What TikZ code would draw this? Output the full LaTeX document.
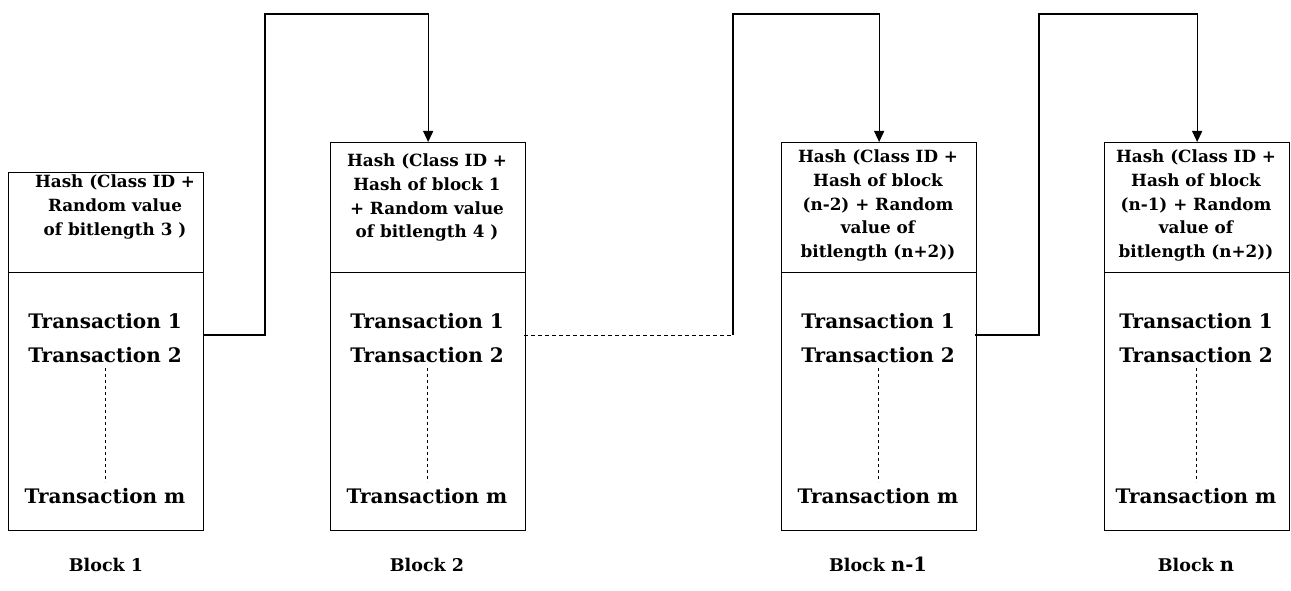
\documentclass[tikz,border=0pt]{standalone}
\usepackage{fontspec}
\setmainfont{DejaVu Serif}
\usetikzlibrary{arrows.meta}
\begin{document}
\begin{tikzpicture}[x=1pt,y=-1pt,
  box/.style={draw, line width=1.3pt, inner sep=0pt, anchor=north west},
  hashtxt/.style={align=center, anchor=north, inner sep=0pt,
    font=\fontsize{16.8}{23.6}\selectfont\bfseries},
  txn/.style={anchor=base, inner sep=0pt, font=\fontsize{20}{22}\selectfont\bfseries},
  lbl/.style={anchor=base, inner sep=0pt, font=\fontsize{17.5}{20}\selectfont\bfseries},
  link/.style={line width=1.3pt},
  tip/.style={-{Triangle[length=11pt,width=10pt]}},
  gap/.style={line width=0.9pt, dash pattern=on 4pt off 3pt},
  elide/.style={line width=0.8pt, dash pattern=on 3pt off 3pt}
]
\fill[white] (0,0) rectangle (1291,591);
\useasboundingbox (0,0) rectangle (1291,591);

% ---------- block boxes: hash header + transaction list ----------
\node[box, minimum width=195pt, minimum height=100pt] (h1) at (8,172) {};
\node[box, minimum width=195pt, minimum height=258pt] (t1) at (8,272) {};
\node[box, minimum width=195pt, minimum height=130pt] (h2) at (330,142) {};
\node[box, minimum width=195pt, minimum height=258pt] (t2) at (330,272) {};
\node[box, minimum width=195pt, minimum height=130pt] (h3) at (781,142) {};
\node[box, minimum width=195pt, minimum height=258pt] (t3) at (781,272) {};
\node[box, minimum width=185pt, minimum height=130pt] (h4) at (1104,142) {};
\node[box, minimum width=185pt, minimum height=258pt] (t4) at (1104,272) {};

% ---------- header texts ----------
\node[hashtxt] (x1) at (115,175) {Hash (Class ID +\\Random value\\of bitlength 3 )};
\node[hashtxt] (x2) at (427,154) {Hash (Class ID +\\Hash of block 1\\+ Random value\\of bitlength 4 )};
\node[hashtxt] (x3) at (878,150) {Hash (Class ID +\\Hash of block\\(n-2) + Random\\value of\\bitlength (n+2))};
\node[hashtxt] (x4) at (1196,150) {Hash (Class ID +\\Hash of block\\(n-1) + Random\\value of\\bitlength (n+2))};

% ---------- transaction lists ----------
\foreach \b/\cx in {1/105, 2/427, 3/878, 4/1196} {
  \node[txn] (ta\b) at (\cx,328) {Transaction 1};
  \node[txn] (tb\b) at (\cx,362) {Transaction 2};
  \node[txn] (tm\b) at (\cx,503) {Transaction m};
  \coordinate (ea\b) at (\cx,368);
  \coordinate (eb\b) at (\cx,482);
  \draw[elide] (ea\b) -- (eb\b);
}

% ---------- block captions ----------
\node[lbl] (l1) at (106,571) {Block 1};
\node[lbl] (l2) at (427,571) {Block 2};
\node[lbl] (l3) at (878,571) {Block {\fontsize{19.5}{20}\selectfont n-1}};
\node[lbl] (l4) at (1196,571) {Block {\fontsize{19.5}{20}\selectfont n}};

% ---------- chain links ----------
\coordinate (s1) at (203,335);
\coordinate (k1) at (265,14);
\draw[link, tip] (s1) -| (k1) -| (h2.north);

\coordinate (s2) at (524,335);
\coordinate (k2) at (733,14);
\coordinate (m2) at (733,335);
\draw[gap] (s2) -- (m2);
\draw[link, tip] (m2) -- (k2) -| (h3.north);

\coordinate (s3) at (975,335);
\coordinate (k3) at (1039,14);
\draw[link, tip] (s3) -| (k3) -| (h4.north);
\end{tikzpicture}
\end{document}
